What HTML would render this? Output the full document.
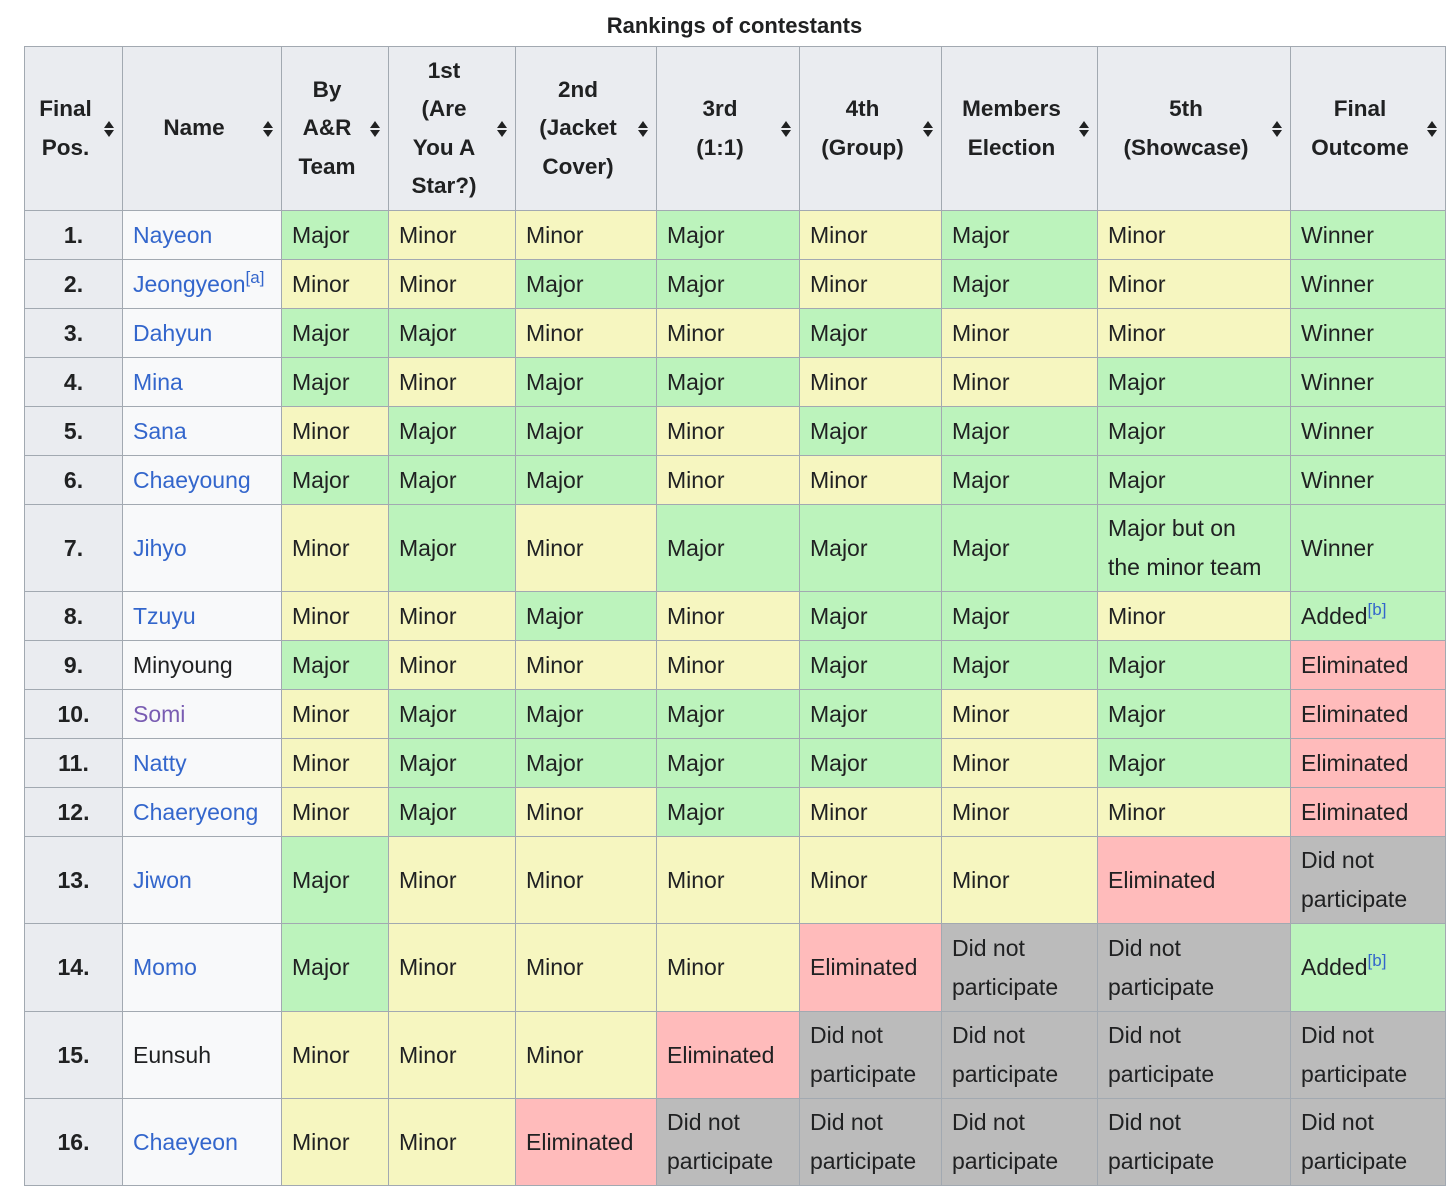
<!DOCTYPE html><html><head><meta charset="utf-8"><style>
body{margin:0;background:#fff;font-family:"Liberation Sans",sans-serif;}
.cap{position:absolute;top:13px;left:24px;width:1421px;text-align:center;font-weight:bold;font-size:22px;color:#202122;}
table{position:absolute;left:24px;top:46px;border-collapse:collapse;table-layout:fixed;width:1422px;font-size:23px;color:#202122;}
td,th{border:1px solid #a2a9b1;padding:0 10px;line-height:39px;vertical-align:middle;text-align:left;overflow:hidden;white-space:nowrap}
th{background:#eaecf0;font-weight:bold;text-align:center;line-height:38.5px;position:relative;padding-right:26px;font-size:22.5px}
th .s{position:absolute;right:8px;top:50%;margin-top:-9px;width:10px;height:18px}
td.p{background:#eaecf0;font-weight:bold;text-align:center}
td.n{background:#f8f9fa;color:#3366cc}
.M{background:#bcf3bc}.m{background:#f6f6c0}.E{background:#ffbbbb}.D{background:#bbbbbb}
sup{font-size:17px;line-height:0;vertical-align:9px}
</style></head><body>
<div class="cap">Rankings of contestants</div>
<table>
<colgroup><col style="width:98px"><col style="width:159px"><col style="width:107px"><col style="width:127px"><col style="width:141px"><col style="width:143px"><col style="width:142px"><col style="width:156px"><col style="width:193px"><col style="width:155px"></colgroup>
<tr style="height:164px">
<th>Final<br>Pos.<svg class="s" viewBox="0 0 10 18"><path d="M5 1L10 8H0z M5 17L10 10H0z" fill="#202122"/></svg></th>
<th>Name<svg class="s" viewBox="0 0 10 18"><path d="M5 1L10 8H0z M5 17L10 10H0z" fill="#202122"/></svg></th>
<th>By<br>A&amp;R<br>Team<svg class="s" viewBox="0 0 10 18"><path d="M5 1L10 8H0z M5 17L10 10H0z" fill="#202122"/></svg></th>
<th>1st<br>(Are<br>You A<br>Star?)<svg class="s" viewBox="0 0 10 18"><path d="M5 1L10 8H0z M5 17L10 10H0z" fill="#202122"/></svg></th>
<th>2nd<br>(Jacket<br>Cover)<svg class="s" viewBox="0 0 10 18"><path d="M5 1L10 8H0z M5 17L10 10H0z" fill="#202122"/></svg></th>
<th>3rd<br>(1:1)<svg class="s" viewBox="0 0 10 18"><path d="M5 1L10 8H0z M5 17L10 10H0z" fill="#202122"/></svg></th>
<th>4th<br>(Group)<svg class="s" viewBox="0 0 10 18"><path d="M5 1L10 8H0z M5 17L10 10H0z" fill="#202122"/></svg></th>
<th>Members<br>Election<svg class="s" viewBox="0 0 10 18"><path d="M5 1L10 8H0z M5 17L10 10H0z" fill="#202122"/></svg></th>
<th>5th<br>(Showcase)<svg class="s" viewBox="0 0 10 18"><path d="M5 1L10 8H0z M5 17L10 10H0z" fill="#202122"/></svg></th>
<th>Final<br>Outcome<svg class="s" viewBox="0 0 10 18"><path d="M5 1L10 8H0z M5 17L10 10H0z" fill="#202122"/></svg></th>
</tr>
<tr style="height:49px"><td class="p">1.</td><td class="n">Nayeon</td><td class="M">Major</td><td class="m">Minor</td><td class="m">Minor</td><td class="M">Major</td><td class="m">Minor</td><td class="M">Major</td><td class="m">Minor</td><td class="M">Winner</td></tr>
<tr style="height:49px"><td class="p">2.</td><td class="n">Jeongyeon<sup>[a]</sup></td><td class="m">Minor</td><td class="m">Minor</td><td class="M">Major</td><td class="M">Major</td><td class="m">Minor</td><td class="M">Major</td><td class="m">Minor</td><td class="M">Winner</td></tr>
<tr style="height:49px"><td class="p">3.</td><td class="n">Dahyun</td><td class="M">Major</td><td class="M">Major</td><td class="m">Minor</td><td class="m">Minor</td><td class="M">Major</td><td class="m">Minor</td><td class="m">Minor</td><td class="M">Winner</td></tr>
<tr style="height:49px"><td class="p">4.</td><td class="n">Mina</td><td class="M">Major</td><td class="m">Minor</td><td class="M">Major</td><td class="M">Major</td><td class="m">Minor</td><td class="m">Minor</td><td class="M">Major</td><td class="M">Winner</td></tr>
<tr style="height:49px"><td class="p">5.</td><td class="n">Sana</td><td class="m">Minor</td><td class="M">Major</td><td class="M">Major</td><td class="m">Minor</td><td class="M">Major</td><td class="M">Major</td><td class="M">Major</td><td class="M">Winner</td></tr>
<tr style="height:49px"><td class="p">6.</td><td class="n">Chaeyoung</td><td class="M">Major</td><td class="M">Major</td><td class="M">Major</td><td class="m">Minor</td><td class="m">Minor</td><td class="M">Major</td><td class="M">Major</td><td class="M">Winner</td></tr>
<tr style="height:87px"><td class="p">7.</td><td class="n">Jihyo</td><td class="m">Minor</td><td class="M">Major</td><td class="m">Minor</td><td class="M">Major</td><td class="M">Major</td><td class="M">Major</td><td class="M">Major but on<br>the minor team</td><td class="M">Winner</td></tr>
<tr style="height:49px"><td class="p">8.</td><td class="n">Tzuyu</td><td class="m">Minor</td><td class="m">Minor</td><td class="M">Major</td><td class="m">Minor</td><td class="M">Major</td><td class="M">Major</td><td class="m">Minor</td><td class="M">Added<sup style="color:#3366cc">[b]</sup></td></tr>
<tr style="height:49px"><td class="p">9.</td><td class="n" style="color:#202122">Minyoung</td><td class="M">Major</td><td class="m">Minor</td><td class="m">Minor</td><td class="m">Minor</td><td class="M">Major</td><td class="M">Major</td><td class="M">Major</td><td class="E">Eliminated</td></tr>
<tr style="height:49px"><td class="p">10.</td><td class="n" style="color:#795cb2">Somi</td><td class="m">Minor</td><td class="M">Major</td><td class="M">Major</td><td class="M">Major</td><td class="M">Major</td><td class="m">Minor</td><td class="M">Major</td><td class="E">Eliminated</td></tr>
<tr style="height:49px"><td class="p">11.</td><td class="n">Natty</td><td class="m">Minor</td><td class="M">Major</td><td class="M">Major</td><td class="M">Major</td><td class="M">Major</td><td class="m">Minor</td><td class="M">Major</td><td class="E">Eliminated</td></tr>
<tr style="height:49px"><td class="p">12.</td><td class="n">Chaeryeong</td><td class="m">Minor</td><td class="M">Major</td><td class="m">Minor</td><td class="M">Major</td><td class="m">Minor</td><td class="m">Minor</td><td class="m">Minor</td><td class="E">Eliminated</td></tr>
<tr style="height:87px"><td class="p">13.</td><td class="n">Jiwon</td><td class="M">Major</td><td class="m">Minor</td><td class="m">Minor</td><td class="m">Minor</td><td class="m">Minor</td><td class="m">Minor</td><td class="E">Eliminated</td><td class="D">Did not<br>participate</td></tr>
<tr style="height:88px"><td class="p">14.</td><td class="n">Momo</td><td class="M">Major</td><td class="m">Minor</td><td class="m">Minor</td><td class="m">Minor</td><td class="E">Eliminated</td><td class="D">Did not<br>participate</td><td class="D">Did not<br>participate</td><td class="M">Added<sup style="color:#3366cc">[b]</sup></td></tr>
<tr style="height:87px"><td class="p">15.</td><td class="n" style="color:#202122">Eunsuh</td><td class="m">Minor</td><td class="m">Minor</td><td class="m">Minor</td><td class="E">Eliminated</td><td class="D">Did not<br>participate</td><td class="D">Did not<br>participate</td><td class="D">Did not<br>participate</td><td class="D">Did not<br>participate</td></tr>
<tr style="height:87px"><td class="p">16.</td><td class="n">Chaeyeon</td><td class="m">Minor</td><td class="m">Minor</td><td class="E">Eliminated</td><td class="D">Did not<br>participate</td><td class="D">Did not<br>participate</td><td class="D">Did not<br>participate</td><td class="D">Did not<br>participate</td><td class="D">Did not<br>participate</td></tr>
</table>
</body></html>
